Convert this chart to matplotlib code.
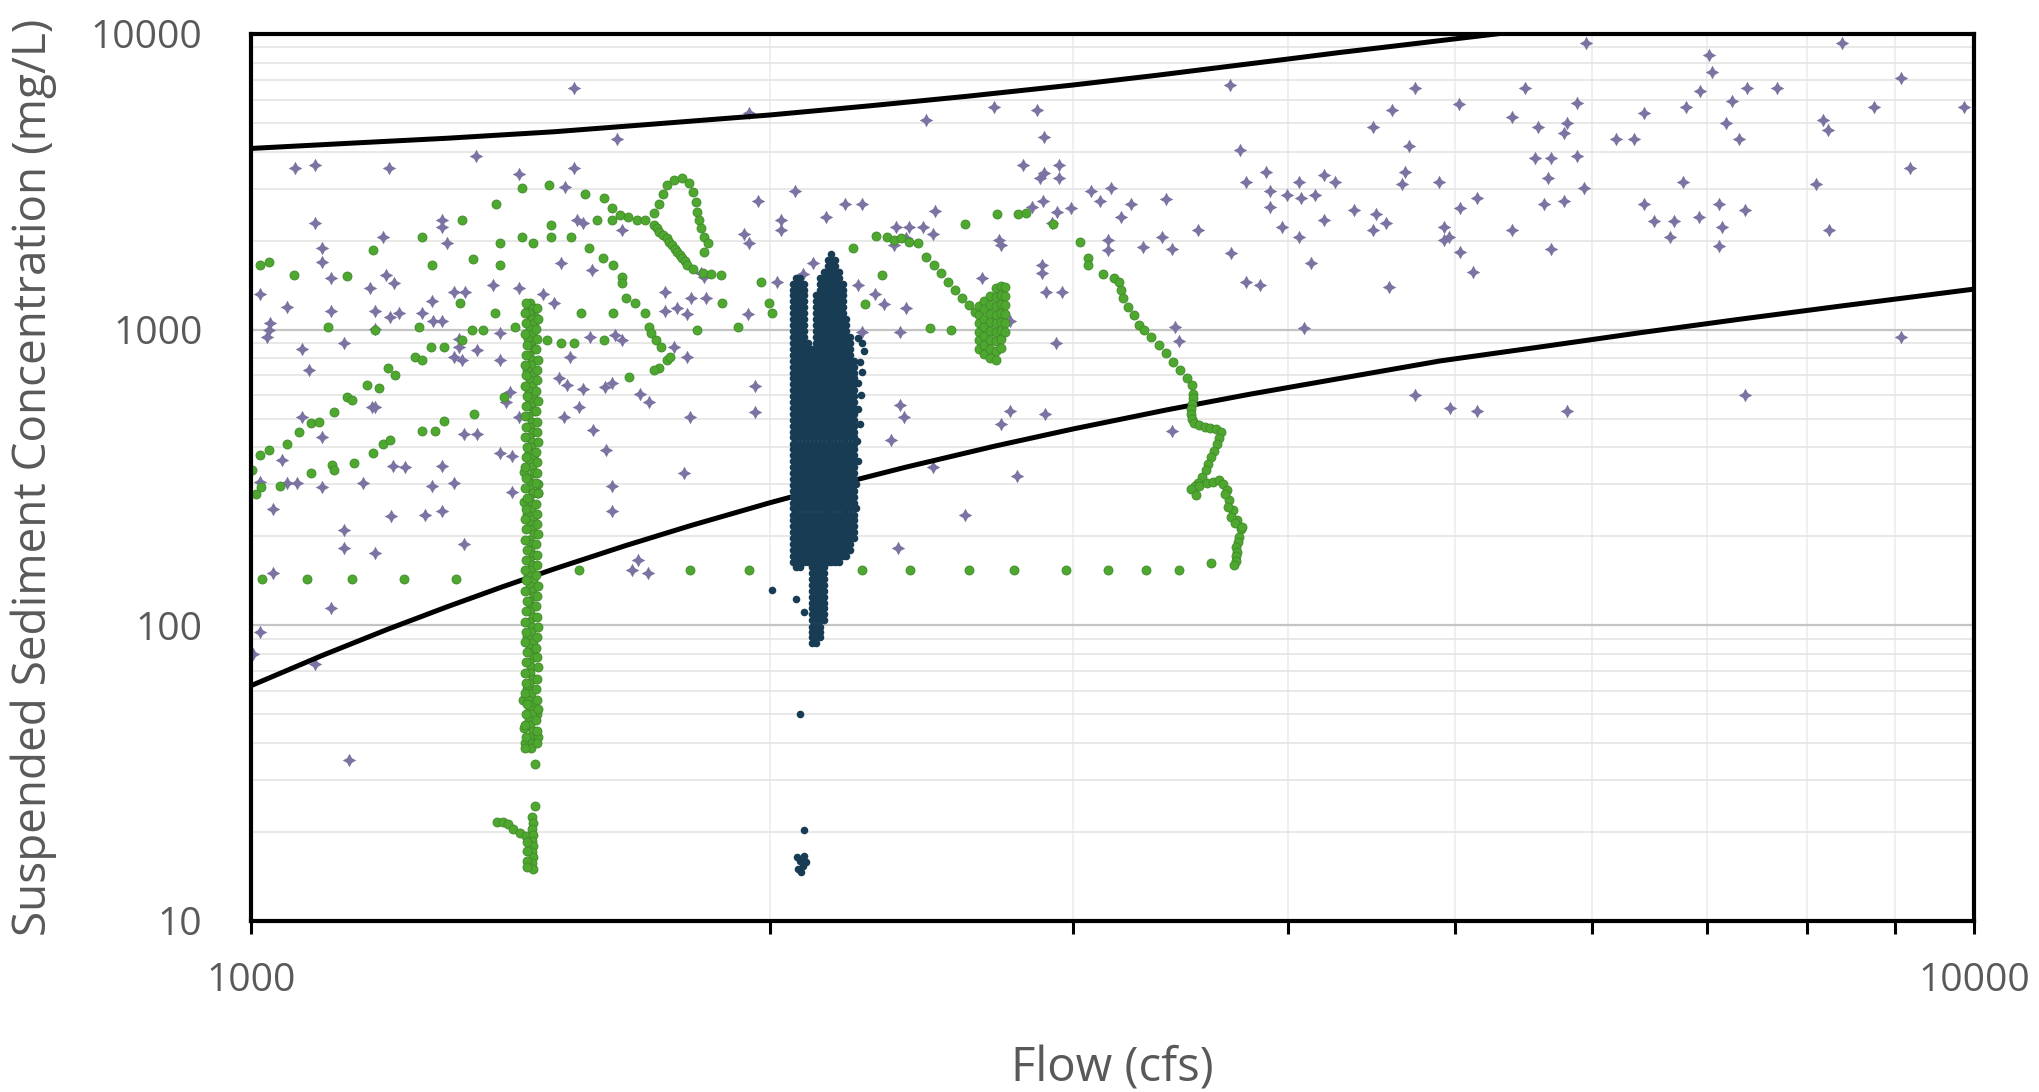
import numpy as np
import matplotlib
matplotlib.use("Agg")
import matplotlib.pyplot as plt
from matplotlib.ticker import FixedLocator, NullFormatter, FuncFormatter

plt.rcParams['font.family'] = ['Open Sans', 'DejaVu Sans']

# ---------------- data ----------------
# Grab samples (flow cfs, SSC mg/L)
purple_obs = [
    (1540, 6580), (1945, 5390), (2466, 5117), (2700, 5650), (2857, 5530), (3700, 6720), (1630, 4400), (1350, 3880), (2884, 4494), (3750, 4050),
    (1061, 3510), (1089, 3603), (1203, 3510), (1430, 3359), (1540, 3510), (1522, 3043), (1089, 2287), (1290, 2347), (1290, 2228), (1193, 2061),
    (1300, 1957), (1099, 1883), (1099, 1688), (1113, 1490), (1198, 1529), (1210, 1433), (1173, 1378), (1012, 1319), (1049, 1195), (1113, 1156),
    (1181, 1156), (1204, 1100), (1219, 1134), (1256, 1134), (1274, 1252), (1275, 1072), (1291, 1072), (1312, 1343), (1331, 1343), (1382, 1415),
    (1430, 1378), (1478, 1319), (1500, 1226), (1513, 1675), (1577, 1590), (1642, 2171), (1547, 2347), (1558, 2287), (1833, 1510), (1824, 1549),
    (1837, 1275), (1738, 1343), (1738, 1156), (1766, 1186), (1790, 1129), (1800, 1275), (1760, 875), (1790, 810), (1943, 1126), (1970, 2729),
    (1932, 2104), (1946, 1957), (2031, 2347), (2031, 2171), (2021, 1444), (2070, 2943), (1024, 996), (1021, 946), (1026, 1050), (1071, 857),
    (1132, 903), (1081, 733), (1180, 1002), (1321, 927), (1321, 875), (1312, 810), (1325, 789), (1352, 853), (1394, 789), (1394, 971),
    (1573, 941), (1627, 958), (1642, 922), (1532, 810), (1510, 684), (1525, 649), (1558, 629), (1604, 641), (1620, 658), (1682, 608),
    (1702, 570), (1960, 644), (1960, 528), (1798, 505), (1519, 505), (1551, 546), (1579, 457), (1413, 617), (1406, 570), (1431, 505),
    (1607, 391), (1784, 328), (1621, 296), (1621, 243), (1071, 505), (1100, 434), (1175, 546), (1181, 546), (1329, 443), (1352, 443),
    (1394, 383), (1418, 373), (1042, 362), (1012, 306), (1049, 303), (1064, 303), (1100, 293), (1162, 303), (1209, 345), (1228, 342),
    (1291, 345), (1274, 296), (1312, 303), (1418, 283), (1030, 248), (1206, 234), (1261, 236), (1291, 243), (1132, 210),
    (1132, 183), (1181, 175), (1329, 188), (1030, 150), (1678, 166), (1665, 154), (1701, 150), (1113, 114), (1012, 95), (1003, 80), (1089, 74), (1140, 35),
    (2805, 3603), (2886, 3377), (2869, 3247), (2944, 3603), (2944, 3247), (3880, 3420), (3780, 3164), (3903, 2943), (4055, 3164), (3993, 2852),
    (4070, 2779), (4143, 2852), (4195, 3333), (4259, 3164), (2212, 2659), (2263, 2659), (2156, 2397), (2495, 2524), (2369, 2228), (2410, 2228),
    (2454, 2228), (2487, 2104), (2362, 1932), (2399, 2035), (2882, 2729), (2840, 2591), (2935, 2504), (2991, 2570), (2918, 2287), (3073, 2943),
    (3157, 3004), (3112, 2729), (3240, 2659), (3198, 2397), (3399, 2757), (3903, 2591), (3968, 2228), (4193, 2347), (4055, 2061), (3544, 2171),
    (3380, 2061), (3423, 1868), (3292, 1907), (3705, 1810), (3142, 2009), (3142, 1858), (2716, 2009), (2723, 1932), (4125, 1683), (3780, 1452),
    (3849, 1415), (2879, 1653), (2879, 1557), (2893, 1343), (2955, 1343), (2655, 1490), (2120, 1683), (2090, 1537), (2252, 1415), (2301, 1315),
    (2331, 1217), (2399, 1180), (2759, 1072), (2382, 984), (2263, 984), (3436, 1017), (3457, 917), (2931, 898), (4086, 1012), (2382, 558),
    (2393, 505), (2759, 530), (2723, 479), (2890, 517), (2351, 423), (3425, 455), (2487, 344), (2782, 320), (2596, 236), (2373, 183),
    (5956, 9346), (8381, 9346), (7019, 8489), (7046, 7457), (9065, 7078), (4735, 6580), (5487, 6580), (7386, 6580), (7682, 6580), (6930, 6412),
    (5028, 5795), (5881, 5825), (7242, 5947), (6804, 5648), (8747, 5648), (9874, 5648), (4595, 5532), (6433, 5390), (5395, 5252), (8170, 5117),
    (8232, 4733), (4481, 4859), (5584, 4859), (5804, 4986), (5779, 4612), (7175, 4986), (6197, 4402), (6353, 4402), (7302, 4402), (4697, 4178),
    (5562, 3796), (5679, 3796), (5881, 3876), (9183, 3511), (4676, 3421), (5658, 3265), (4656, 3100), (4890, 3165), (6782, 3165), (8099, 3100),
    (5935, 3012), (5145, 2787), (5633, 2667), (5779, 2730), (6433, 2667), (7111, 2667), (5030, 2585), (4365, 2532), (4499, 2467), (7362, 2532),
    (4558, 2288), (6518, 2336), (6694, 2336), (6927, 2397), (4481, 2172), (4925, 2229), (5395, 2172), (7145, 2229), (8240, 2172), (4925, 2009),
    (4960, 2051), (6665, 2062), (5030, 1825), (5679, 1868), (7111, 1917), (5119, 1566), (4575, 1390), (9065, 946), (4735, 601), (4966, 544),
    (5145, 530), (5804, 530), (7362, 601),
]

# Continuous turbidity-derived record, event A (flow cfs, SSC mg/L)
green_obs = [
    (1002, 335), (1012, 376), (1024, 391), (1049, 412), (1066, 451), (1084, 482), (1095, 488), (1118, 527), (1137, 593), (1145, 577),
    (1167, 649), (1187, 633), (1201, 739), (1213, 702), (1245, 809), (1257, 789), (1272, 875), (1294, 875), (1325, 926), (1344, 996),
    (1363, 996), (1423, 1017), (1450, 1063),
    (1007, 279), (1014, 294), (1039, 296), (1084, 328), (1115, 348), (1118, 335), (1147, 354), (1177, 383), (1193, 412), (1204, 423),
    (1257, 455), (1278, 455), (1295, 491), (1347, 518), (1403, 593),
    (1024, 1697), (1012, 1653), (1059, 1529), (1137, 1516), (1177, 1866), (1256, 2062), (1273, 1653), (1325, 2347), (1345, 1732), (1388, 2658),
    (1395, 1957), (1395, 1653), (1437, 3002), (1437, 2062), (1457, 1957), (1489, 3082), (1494, 2258), (1494, 2062), (1534, 2062), (1562, 2873),
    (1602, 2780), (1572, 1882), (1619, 2570), (1619, 2347), (1588, 2347), (1600, 1741), (1623, 1653), (1642, 1509), (1642, 1433), (1650, 1275),
    (1670, 1226), (1694, 1134), (1702, 1023), (1706, 971), (1718, 921), (1730, 875), (1743, 789), (1751, 809), (1726, 739), (1714, 730),
    (1638, 2439), (1654, 2397), (1674, 2347), (1694, 2347), (1714, 2471), (1726, 2658), (1735, 2870), (1743, 3082), (1759, 3206), (1780, 3245),
    (1796, 3139), (1806, 2927), (1813, 2707), (1816, 2503), (1820, 2347), (1824, 2199), (1833, 2062), (1841, 1957), (1833, 1835),
    (1714, 2258), (1720, 2200), (1726, 2142), (1735, 2090), (1743, 2035), (1749, 1980), (1755, 1932), (1762, 1880), (1768, 1835), (1774, 1790),
    (1780, 1741), (1786, 1700), (1791, 1653), (1805, 1600), (1830, 1560), (1850, 1540),
    (1873, 1529), (1877, 1226), (1978, 1452), (1997, 1226), (2006, 1134), (1918, 1017), (1815, 996),
    (1554, 1134), (1623, 1134), (1514, 898), (1540, 898), (1485, 921), (1602, 926), (1323, 1226), (1386, 1134), (1251, 1023), (1181, 1001),
    (1108, 1023), (1658, 692),
    (2237, 1882), (2305, 2072), (2340, 2062), (2360, 2008), (2385, 2035), (2408, 1982), (2437, 1957), (2464, 1764), (2490, 1653), (2514, 1549),
    (2538, 1452), (2561, 1361), (2585, 1275), (2610, 1210), (2630, 1149),
    (2323, 1529), (2272, 1220), (2478, 1009), (2549, 996), (2595, 2274), (2710, 2459), (2789, 2459), (2818, 2484), (2921, 2274),
    (2645, 1200), (2645, 1120), (2645, 1050), (2645, 980), (2645, 920), (2645, 860),
    (2665, 1250), (2665, 1170), (2665, 1090), (2665, 1020), (2665, 955), (2665, 890), (2665, 830),
    (2685, 1300), (2685, 1210), (2685, 1130), (2685, 1060), (2685, 990), (2685, 925), (2685, 860), (2685, 800),
    (2705, 1380), (2705, 1290), (2705, 1200), (2705, 1120), (2705, 1050), (2705, 980), (2705, 915), (2705, 850), (2705, 790),
    (2725, 1400), (2725, 1310), (2725, 1220), (2725, 1140), (2725, 1065), (2725, 995), (2725, 930), (2725, 870),
    (2740, 1390), (2740, 1300), (2740, 1210), (2740, 1130), (2740, 1055), (2740, 985),
    (3027, 1982), (3059, 1741), (3059, 1653), (3122, 1541), (3168, 1490), (3191, 1452), (3198, 1360), (3206, 1275), (3229, 1195), (3253, 1120),
    (3276, 1036), (3299, 996), (3331, 946), (3363, 886), (3395, 831), (3428, 778), (3461, 730), (3493, 684), (3519, 649), (3523, 608),
    (3521, 585), (3519, 562), (3514, 540), (3510, 520), (3518, 500), (3526, 482), (3552, 475), (3578, 469), (3604, 466), (3630, 463),
    (3656, 451), (3645, 430), (3634, 412), (3622, 390), (3609, 371), (3595, 352), (3581, 335), (3564, 318), (3547, 302), (3530, 295),
    (3513, 288), (3535, 276), (3550, 296), (3586, 302), (3617, 306), (3648, 310), (3668, 300), (3683, 287), (3696, 265), (3715, 245),
    (3736, 227), (3754, 212), (3674, 279), (3691, 252), (3704, 233), (3727, 221), (3758, 215), (3745, 199), (3740, 192), (3732, 184),
    (3733, 177), (3732, 171), (3728, 165), (3722, 160),
    (1015, 143), (1078, 143), (1145, 143), (1227, 143), (1315, 143), (1551, 154), (1797, 154), (1946, 154), (2263, 154), (2414, 154),
    (2609, 154), (2772, 154), (2971, 154), (3142, 154), (3307, 154), (3457, 154), (3609, 162),
    (1440, 330), (1468, 300), (1440, 262), (1468, 280), (1438, 56), (1466, 50), (1440, 45), (1468, 42), (1442, 40), (1462, 1100), (1444, 1150),
    (1462, 33.9), (1462, 24.4), (1390, 21.6), (1400, 21.6), (1410, 21.3), (1420, 20.5), (1432, 19.8), (1444, 19.4),
    (1456, 22.5), (1458, 21.5), (1456, 20.5), (1458, 19.6), (1456, 18.7), (1458, 17.9), (1456, 17.1), (1458, 16.4), (1456, 15.7), (1458, 15.0),
    (1446, 18.5), (1446, 17.2), (1446, 16.0), (1446, 15.2),
]

# Event A, steady-flow record near 1450 cfs (two gauge passes)
green_steady_ssc = [
    1226, 1180, 1135, 1090, 1050, 1005, 965, 930, 890, 857, 823, 790, 760, 730, 700, 673, 647, 622, 597, 574,
    551, 530, 509, 489, 470, 452, 434, 417, 401, 385, 370, 356, 342, 328, 315, 303, 291, 280, 269, 258,
    248, 238, 229, 220, 211, 203, 195, 188, 180, 173, 166, 160, 154, 148, 142, 136, 131, 126, 121, 116,
    112, 107, 103, 99, 95, 91, 88, 84, 81, 78, 75, 72, 69, 66, 64, 61, 59, 56, 54, 52,
    50, 48, 46, 44, 42, 40, 38.5,
]
green_steady_flow = [
    1452, 1457, 1449, 1455, 1460, 1451, 1456, 1448, 1454, 1459, 1450, 1456, 1453, 1447, 1458, 1452, 1455, 1449, 1457, 1451,
    1454, 1460, 1448, 1455, 1452, 1458, 1450, 1456, 1453, 1449, 1457, 1451, 1455, 1460, 1448, 1454, 1452, 1458, 1450, 1456,
    1453, 1447, 1457, 1451, 1455, 1459, 1449, 1454, 1452, 1458, 1450, 1456, 1453, 1448, 1457, 1451, 1455, 1460, 1449, 1454,
    1452, 1458, 1450, 1456, 1453, 1447, 1457, 1451, 1455, 1459, 1449, 1454, 1452, 1458, 1450, 1446, 1453, 1448, 1457, 1451,
    1455, 1449, 1452, 1458, 1450, 1456, 1453,
]
green_steady_flow_b = [
    1444, 1465, 1442, 1467, 1445, 1464, 1443, 1466, 1446, 1463, 1444, 1467, 1442, 1465, 1445, 1466, 1443, 1464, 1446, 1467,
    1444, 1463, 1442, 1466, 1445, 1465, 1443, 1467, 1446, 1464, 1444, 1466, 1442, 1465, 1445, 1463, 1443, 1467, 1446, 1464,
    1444, 1466, 1442, 1465, 1445, 1467, 1443, 1464, 1446, 1466, 1444, 1465, 1442, 1463, 1445, 1467, 1443, 1466, 1446, 1464,
    1444, 1465, 1442, 1467, 1445, 1466, 1443, 1464, 1446, 1465, 1444, 1467, 1442, 1466, 1445, 1463, 1443, 1465, 1446, 1467,
    1444, 1464, 1442, 1466, 1445, 1465, 1443,
]

# Event B, continuous record around 2100-2250 cfs: SSC levels and the
# flow columns with the SSC span each one covers
navy_levels = [
    1800, 1720, 1640, 1570, 1500, 1430, 1365, 1305, 1245, 1190, 1135, 1085, 1035, 990, 945, 900, 860, 822, 785, 750,
    716, 684, 653, 624, 596, 569, 543, 519, 496, 473, 452, 432, 412, 394, 376, 359, 343, 328, 313, 299,
    285, 272, 260, 249, 237, 227, 217, 207, 198, 189, 180, 172, 164, 157, 150, 143, 137, 131, 125, 119,
    114, 109, 104, 99, 95, 91, 87,
]
navy_col_flow = [2062, 2073, 2084, 2095, 2106, 2117, 2128, 2139, 2150, 2161, 2172, 2183, 2194, 2205, 2216, 2227, 2238]
navy_col_top = [1450, 1500, 1500, 1450, 900, 880, 1350, 1500, 1620, 1720, 1800, 1760, 1620, 1450, 1100, 950, 800]
navy_col_bottom = [160, 157, 157, 160, 160, 87, 87, 91, 100, 160, 160, 160, 160, 165, 170, 180, 190]
navy_extra = [
    (2250, 940), (2262, 900), (2268, 850), (2258, 780), (2264, 720), (2252, 660), (2260, 600), (2250, 540), (2256, 480),
    (2248, 420), (2252, 360), (2246, 300), (2244, 250), (2006, 132), (2071, 123), (2093, 111), (2082, 50), (2093, 20.3),
    (2075, 16.5), (2082, 16.0), (2090, 15.4), (2078, 15.0), (2086, 14.6), (2095, 16.6), (2100, 15.8),
]

# Envelope curves
upper_flow = [1000, 1150, 1300, 1500, 1730, 2000, 2290, 2600, 3000, 3350, 3700, 4000, 4280, 4800, 5280, 5700]
upper_ssc = [4100, 4280, 4440, 4670, 4980, 5320, 5720, 6150, 6720, 7240, 7780, 8230, 8650, 9360, 10000, 10600]
lower_flow = [1000, 1100, 1200, 1300, 1400, 1500, 1650, 1800, 2000, 2200, 2400, 2700, 3000, 3400, 3800, 4300,
              4900, 5600, 6400, 7300, 8400, 10000]
lower_ssc = [62.5, 79.1, 96.9, 115.6, 135.1, 155.2, 186.1, 217.5, 259.6, 301.5, 342.8, 403.3, 461.4, 535.3, 604.9, 686.1,
             783.8, 873.9, 976.2, 1083, 1205, 1371]

x_major = [1000, 10000]
x_minor = [2000, 3000, 4000, 5000, 6000, 7000, 8000, 9000]
y_major = [10, 100, 1000, 10000]
y_minor = [m * d for d in (10, 100, 1000) for m in range(2, 10)]

# ---------------- assemble series ----------------
purple = np.array(purple_obs, dtype=float)
green = np.array(green_obs
                 + list(zip(green_steady_flow, green_steady_ssc))
                 + list(zip(green_steady_flow_b, green_steady_ssc)), dtype=float)
navy_pts = [(fx, lv) for fx, top, bot in zip(navy_col_flow, navy_col_top, navy_col_bottom)
            for lv in navy_levels if bot <= lv <= top]
navy = np.array(navy_pts + navy_extra, dtype=float)

# ---------------- figure ----------------
fig = plt.figure(figsize=(20.39, 10.92), dpi=100)
ax = fig.add_axes([0.1231, 0.1566, 0.8450, 0.8123])
ax.set_xscale('log')
ax.set_yscale('log')
ax.set_xlim(1000, 10000)
ax.set_ylim(10, 10000)

ax.xaxis.set_major_locator(FixedLocator(x_major))
ax.xaxis.set_minor_locator(FixedLocator(x_minor))
ax.yaxis.set_major_locator(FixedLocator(y_major))
ax.yaxis.set_minor_locator(FixedLocator(y_minor))
fmt = FuncFormatter(lambda v, _: f"{v:.0f}")
ax.xaxis.set_major_formatter(fmt)
ax.yaxis.set_major_formatter(fmt)
ax.xaxis.set_minor_formatter(NullFormatter())
ax.yaxis.set_minor_formatter(NullFormatter())

ax.set_axisbelow(True)
ax.grid(True, which='major', axis='y', color='#c4c4c4', lw=1.6)
ax.grid(True, which='minor', axis='y', color='#e4e4e4', lw=1.2)
ax.grid(True, which='minor', axis='x', color='#ececec', lw=1.2)

ax.scatter(purple[:, 0], purple[:, 1], marker=(4, 1, 0), s=95, color='#7d73a3',
           linewidths=0, zorder=3)
ax.plot(upper_flow, upper_ssc, color='black', lw=3.6, zorder=3.5, solid_joinstyle='round')
ax.plot(lower_flow, lower_ssc, color='black', lw=3.6, zorder=3.5, solid_joinstyle='round')
ax.scatter(green[:, 0], green[:, 1], marker='o', s=42, color='#4ea72e',
           edgecolors='#3f8a2a', linewidths=0.6, zorder=4)
ax.scatter(navy[:, 0], navy[:, 1], marker='o', s=30, color='#173c54',
           linewidths=0, zorder=5)

for sp in ax.spines.values():
    sp.set_linewidth(3.0)
    sp.set_color('black')
    sp.set_zorder(6)

ax.tick_params(axis='x', which='both', direction='out', length=9.5, width=2.2,
               color='black', labelsize=28, labelcolor='#595959', pad=20)
ax.tick_params(axis='y', which='both', length=0, labelsize=28,
               labelcolor='#595959', pad=35)

ax.set_xlabel('Flow (cfs)', fontsize=34, color='#595959')
ax.xaxis.set_label_coords(0.5, -0.14)
ax.set_ylabel('Suspended Sediment Concentration (mg/L)', fontsize=33, color='#595959')
ax.yaxis.set_label_coords(-0.1126, 0.5)

fig.savefig('out.png', dpi=100, facecolor='white')
